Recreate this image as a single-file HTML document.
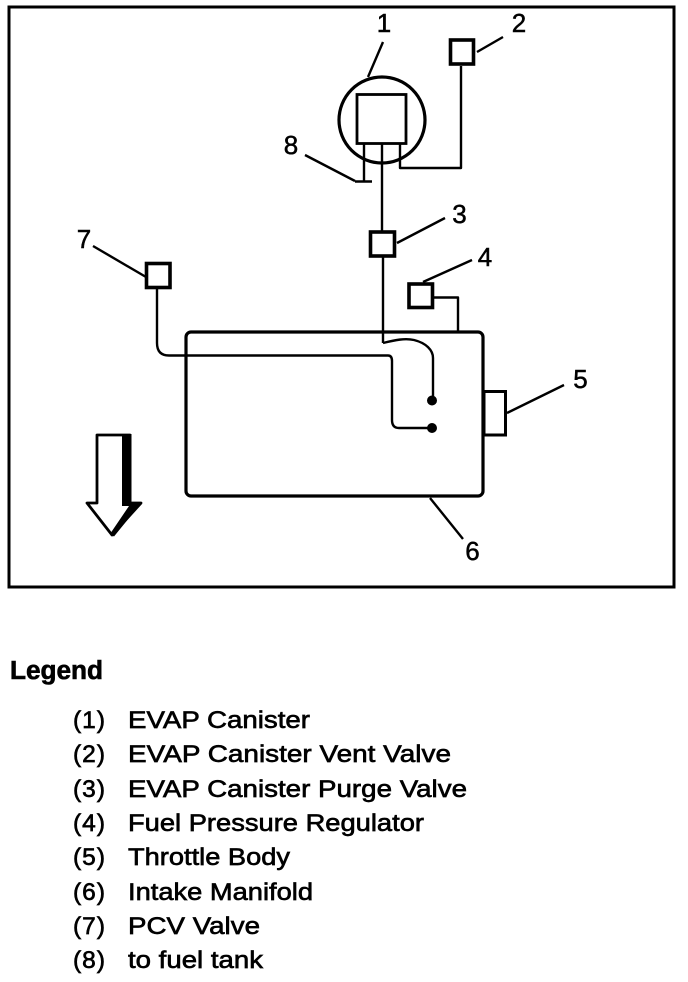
<!DOCTYPE html>
<html>
<head>
<meta charset="utf-8">
<style>
html,body{margin:0;padding:0;background:#fff;width:688px;height:982px;overflow:hidden}
svg{display:block}
text{font-family:"Liberation Sans",sans-serif;fill:#000}
.n{font-size:26px;stroke:#000;stroke-width:.5}
.l{font-size:24.500px;stroke:#000;stroke-width:.65}
.ln{fill:none;stroke:#000;stroke-width:2.4;stroke-linejoin:round}
.b{fill:#fff;stroke:#000;stroke-width:3.6}
.t{fill:none;stroke:#000;stroke-width:3.2}
</style>
</head>
<body>
<svg width="688" height="982" viewBox="0 0 688 982" xmlns="http://www.w3.org/2000/svg">
<rect x="9" y="7" width="665" height="580" fill="none" stroke="#000" stroke-width="3"/>

<!-- Canister -->
<circle cx="382" cy="120" r="43" fill="none" stroke="#000" stroke-width="3.200"/>
<rect x="357" y="94.500" width="49" height="49" fill="#fff" stroke="#000" stroke-width="2.800"/>
<path class="ln" d="M364 143V181M355 181.500H372M382 143V231M400 143V168H461V66"/>

<!-- Boxes -->
<rect class="b" x="450.500" y="40" width="23" height="24"/>
<rect class="b" x="370.500" y="232" width="24" height="24"/>
<rect class="b" x="409" y="284" width="23.500" height="23.500"/>
<rect class="b" x="146.500" y="263.500" width="23.500" height="24"/>

<!-- Manifold -->
<path class="ln" d="M383 256V343"/>
<path class="ln" d="M433 297.500H458V332"/>
<rect class="t" x="186" y="332" width="297" height="164" rx="5" ry="5"/>
<rect x="484" y="391.500" width="21.500" height="43.500" fill="#fff" stroke="#000" stroke-width="3"/>

<!-- Internal hoses -->
<path class="ln" d="M157 288V343Q157 355.500 169 355.500H388Q392 355.500 392 361V420Q392 428 399 428H432"/>
<path class="ln" d="M383 343C395 340 405 338 414 340C426 343 433 350 433 358V400"/>
<circle cx="432" cy="400.500" r="5"/>
<circle cx="432" cy="428" r="5"/>

<!-- Leaders -->
<path class="ln" d="M383 42L368 77M477 52L503 37M305 155L355 181M397 243L445 218M423 282L472 260M507 413L564 385M430 498L463 539M93 246L146 277"/>

<!-- Arrow -->
<path d="M97 435H130V503H141L112 535L87 503H97Z" fill="#fff" stroke="#000" stroke-width="2.800" stroke-linejoin="round"/>
<path d="M122 434H131.500V502H142L114 536.500L110 534L129 506H122Z" fill="#000"/>

<!-- Callout numbers -->
<text class="n" x="384" y="32" text-anchor="middle">1</text>
<text class="n" x="519" y="32" text-anchor="middle">2</text>
<text class="n" x="459.500" y="223" text-anchor="middle">3</text>
<text class="n" x="485" y="266" text-anchor="middle">4</text>
<text class="n" x="580.500" y="388" text-anchor="middle">5</text>
<text class="n" x="472.500" y="560" text-anchor="middle">6</text>
<text class="n" x="84" y="248" text-anchor="middle">7</text>
<text class="n" x="291" y="154" text-anchor="middle">8</text>

<!-- Legend -->
<text x="10" y="679" font-size="25.500" font-weight="700" stroke="#000" stroke-width=".6" textLength="93" lengthAdjust="spacingAndGlyphs">Legend</text>

<text class="l" x="73" y="728" textLength="32">(1)</text>
<text class="l" x="128" y="728" textLength="182" lengthAdjust="spacingAndGlyphs">EVAP Canister</text>
<text class="l" x="73" y="762" textLength="32">(2)</text>
<text class="l" x="128" y="762" textLength="323" lengthAdjust="spacingAndGlyphs">EVAP Canister Vent Valve</text>
<text class="l" x="73" y="797" textLength="32">(3)</text>
<text class="l" x="128" y="797" textLength="339" lengthAdjust="spacingAndGlyphs">EVAP Canister Purge Valve</text>
<text class="l" x="73" y="831" textLength="32">(4)</text>
<text class="l" x="128" y="831" textLength="296" lengthAdjust="spacingAndGlyphs">Fuel Pressure Regulator</text>
<text class="l" x="73" y="865" textLength="32">(5)</text>
<text class="l" x="128" y="865" textLength="162" lengthAdjust="spacingAndGlyphs">Throttle Body</text>
<text class="l" x="73" y="900" textLength="32">(6)</text>
<text class="l" x="128" y="900" textLength="185" lengthAdjust="spacingAndGlyphs">Intake Manifold</text>
<text class="l" x="73" y="934" textLength="32">(7)</text>
<text class="l" x="128" y="934" textLength="132" lengthAdjust="spacingAndGlyphs">PCV Valve</text>
<text class="l" x="73" y="968" textLength="32">(8)</text>
<text class="l" x="128" y="968" textLength="135" lengthAdjust="spacingAndGlyphs">to fuel tank</text>
</svg>
</body>
</html>
